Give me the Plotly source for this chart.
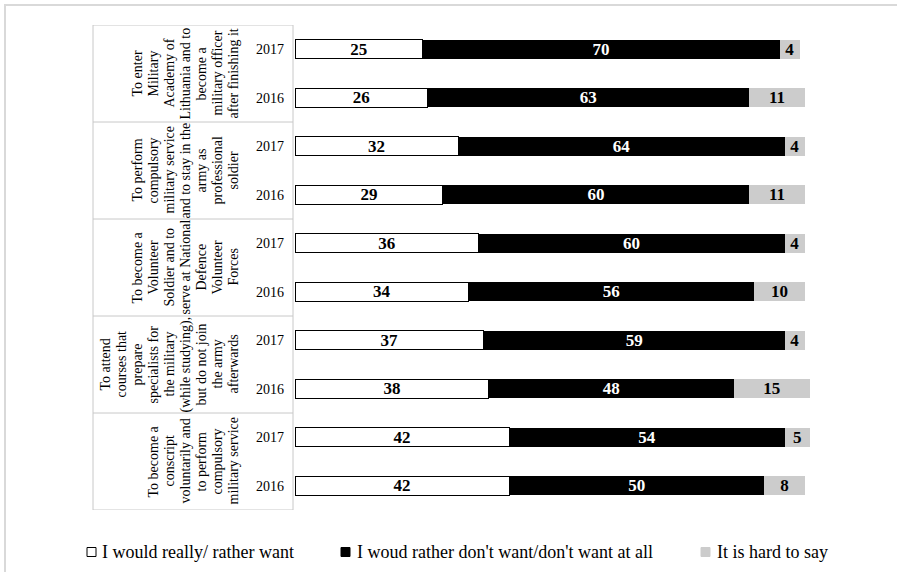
import plotly.graph_objects as go

# Survey: willingness to pursue military-related paths (%), 2017 vs 2016
categories = [
    ["To enter", "Military", "Academy of", "Lithuania and to", "become a",
     "military officer", "after finishing it"],
    ["To perform", "compulsory", "military service", "and to stay in the", "army as",
     "professional", "soldier"],
    ["To become a", "Volunteer", "Soldier and to", "serve at National", "Defence",
     "Volunteer", "Forces"],
    ["To attend", "courses that", "prepare", "specialists for", "the military",
     "(while studying),", "but do not join", "the army", "afterwards"],
    ["To become a", "conscript", "voluntarily and", "to perform", "compulsory",
     "military service"],
]
years = ["2017", "2016"]

series_names = [
    "I would really/ rather want",
    "I woud rather don't want/don't want at all",
    "It is hard to say",
]

# values in row order: (cat1 2017, cat1 2016, cat2 2017, ...)
want = [25, 26, 32, 29, 36, 34, 37, 38, 42, 42]
dont_want = [70, 63, 64, 60, 60, 56, 59, 48, 54, 50]
hard_to_say = [4, 11, 4, 11, 4, 10, 4, 15, 5, 8]

FONT = "Liberation Serif"
W, H = 897, 572
ML, MR, MT, MB = 295, 42, 25, 62
PW, PH = W - ML - MR, H - MT - MB


def px_x(p):
    return (p - ML) / PW


def px_y(p):
    return (MT + PH - p) / PH


rows = list(range(len(want)))
row_labels = [years[i % 2] for i in rows]

fig = go.Figure()
styles = [
    dict(fill="#ffffff", line="#000000", lw=1, txt="#000000"),
    dict(fill="#000000", line="#000000", lw=0, txt="#ffffff"),
    dict(fill="#cccccc", line="#cccccc", lw=0, txt="#000000"),
]
for name, vals, st in zip(series_names, [want, dont_want, hard_to_say], styles):
    fig.add_trace(go.Bar(
        name=name, y=rows, x=vals, orientation="h", width=0.4,
        marker=dict(color=st["fill"], line=dict(color=st["line"], width=st["lw"])),
        text=vals, textposition="inside", insidetextanchor="middle", textangle=0,
        textfont=dict(family=FONT, size=17, color=st["txt"], weight="bold"),
        showlegend=False, cliponaxis=False,
    ))

fig.update_layout(
    barmode="stack",
    width=W, height=H,
    margin=dict(l=ML, r=MR, t=MT, b=MB),
    paper_bgcolor="white", plot_bgcolor="white",
    uniformtext=dict(minsize=17, mode="show"),
    font=dict(family=FONT, size=14, color="#000000"),
    xaxis=dict(range=[0, PW / 5.1], showgrid=False, zeroline=False,
               showticklabels=False, ticks="", showline=False),
    yaxis=dict(range=[len(rows) - 0.5, -0.5], showgrid=False, zeroline=False,
               tickvals=rows, ticktext=row_labels, ticks="", showline=False,
               ticklabelstandoff=10, tickfont=dict(family=FONT, size=14)),
)

shapes = []
grey = "#c8c8c8"
# table grid for the category column
for b in range(len(categories) + 1):
    yb = 2 * b - 0.5
    shapes.append(dict(type="line", xref="paper", yref="y", x0=px_x(93), x1=px_x(293),
                       y0=yb, y1=yb, line=dict(color=grey, width=1)))
for xp in (93, 293):
    shapes.append(dict(type="line", xref="paper", yref="y", x0=px_x(xp), x1=px_x(xp),
                       y0=-0.5, y1=len(rows) - 0.5, line=dict(color=grey, width=1)))
# outer frame
shapes.append(dict(type="rect", xref="paper", yref="paper", x0=px_x(5), x1=px_x(910),
                   y0=px_y(585), y1=px_y(5), line=dict(color="#d9d9d9", width=2)))

annotations = []
# rotated category captions, one annotation per line, 16px line pitch
LAST_LINE_X, PITCH = 233, 16
for g, lines in enumerate(categories):
    n = len(lines)
    for k, line in enumerate(lines):
        cx = LAST_LINE_X - (n - 1 - k) * PITCH
        annotations.append(dict(
            text=line, textangle=-90, xref="paper", yref="y", x=px_x(cx), y=2 * g + 0.5,
            xanchor="center", yanchor="middle", align="center", showarrow=False,
            font=dict(family=FONT, size=14, color="#000000"),
        ))

# legend row
legend_items = [(87, 100, "#ffffff", "#000000"), (341, 355, "#000000", "#000000"),
                (701, 715, "#cccccc", "#cccccc")]
ly = 552
for (sx, tx, fill, edge), name in zip(legend_items, series_names):
    shapes.append(dict(type="rect", xref="paper", yref="paper",
                       x0=px_x(sx), x1=px_x(sx + 9), y0=px_y(ly + 4.5), y1=px_y(ly - 4.5),
                       fillcolor=fill, line=dict(color=edge, width=1)))
    annotations.append(dict(text=name, xref="paper", yref="paper", x=px_x(tx), y=px_y(ly),
                            xanchor="left", yanchor="middle", showarrow=False,
                            font=dict(family=FONT, size=18, color="#000000")))

fig.update_layout(shapes=shapes, annotations=annotations)
fig.write_html("out.html")
